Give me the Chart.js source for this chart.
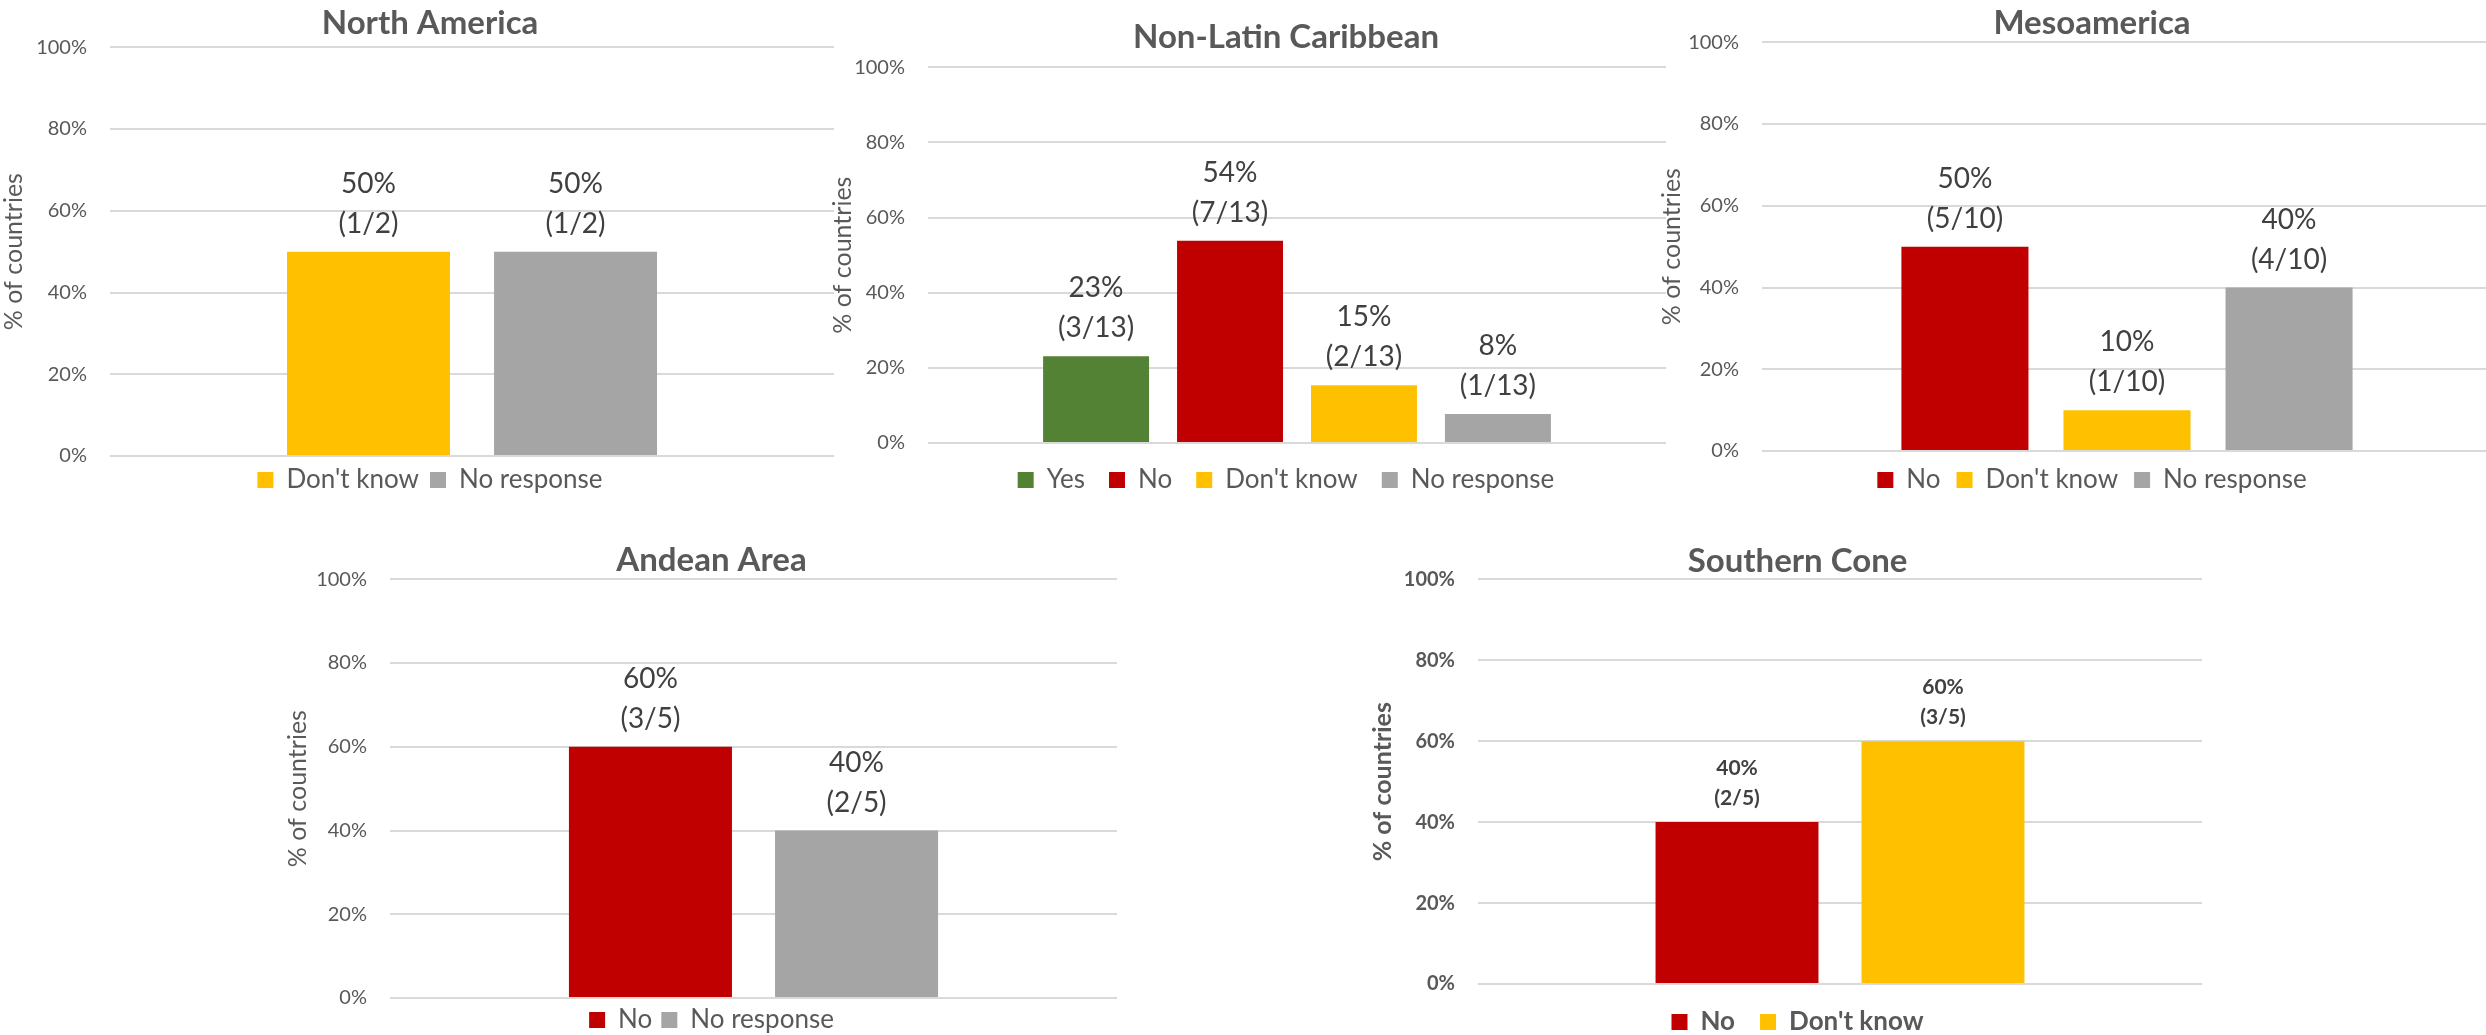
<!DOCTYPE html>
<html lang="en">
<head>
  <meta charset="UTF-8" />
  <title>Responses by subregion</title>
  <script src="https://cdn.jsdelivr.net/npm/chart.js"></script>
  <style>
    html, body {
      margin: 0;
      padding: 0;
      background: #fff;
      overflow: hidden;
    }
    body {
      width: 2486px;
      height: 1035px;
      position: relative;
      font-family: Lato, sans-serif;
    }
    .panel {
      position: absolute;
    }
  </style>
</head>
<body>

<div class="panel" style="left:0px; top:5px; width:860px; height:498px;"><canvas id="naChart"></canvas></div>
<div class="panel" style="left:829px; top:19px; width:914px; height:484px;"><canvas id="nlcChart"></canvas></div>
<div class="panel" style="left:1658px; top:5px; width:868px; height:498px;"><canvas id="mesoChart"></canvas></div>
<div class="panel" style="left:284px; top:542px; width:855px; height:501px;"><canvas id="andeanChart"></canvas></div>
<div class="panel" style="left:1369px; top:543px; width:857px; height:502px;"><canvas id="southChart"></canvas></div>

<script>
  // values are % of countries in each subregion, counts are the raw answers
  const naSeries = ["Don't know", "No response"];
  const naValues = [50, 50];
  const naCounts = ["(1/2)", "(1/2)"];

  const nlcSeries = ["Yes", "No", "Don't know", "No response"];
  const nlcValues = [23.1, 53.8, 15.4, 7.7];
  const nlcCounts = ["(3/13)", "(7/13)", "(2/13)", "(1/13)"];

  const mesoSeries = ["No", "Don't know", "No response"];
  const mesoValues = [50, 10, 40];
  const mesoCounts = ["(5/10)", "(1/10)", "(4/10)"];

  const andeanSeries = ["No", "No response"];
  const andeanValues = [60, 40];
  const andeanCounts = ["(3/5)", "(2/5)"];

  const southSeries = ["No", "Don't know"];
  const southValues = [40, 60];
  const southCounts = ["(2/5)", "(3/5)"];

  const yTickStep = 20;
  const yMax = 100;

  const colors = {
    "Yes": "#548235",
    "No": "#C00000",
    "Don't know": "#FFC000",
    "No response": "#A5A5A5"
  };

  const textGray = '#595959';

  // draws "54%" and "(7/13)" above each bar
  const valueLabels = {
    id: 'valueLabels',
    afterDatasetsDraw(chart, args, opts) {
      const ctx = chart.ctx;
      ctx.save();
      ctx.font = opts.font;
      ctx.fillStyle = opts.color;
      ctx.textAlign = 'center';
      ctx.textBaseline = 'middle';
      chart.data.datasets.forEach((ds, i) => {
        const bar = chart.getDatasetMeta(i).data[0];
        ctx.fillText(Math.round(ds.data[0]) + '%', bar.x, bar.y - opts.topGap);
        ctx.fillText(ds.count, bar.x, bar.y - opts.bottomGap);
      });
      ctx.restore();
    }
  };

  function makeChart(canvasId, title, series, values, counts, o) {
    const weight = o.bold ? 'bold' : 'normal';
    return new Chart(document.getElementById(canvasId), {
      type: 'bar',
      data: {
        labels: [''],
        datasets: series.map((name, i) => ({
          label: name,
          data: [values[i]],
          count: counts[i],
          backgroundColor: colors[name],
          borderWidth: 0,
          categoryPercentage: o.catPct,
          barPercentage: o.barPct
        }))
      },
      options: {
        responsive: true,
        maintainAspectRatio: false,
        animation: false,
        events: [],
        layout: { padding: 0 },
        scales: {
          x: { display: false },
          y: {
            min: 0,
            max: yMax,
            afterFit: s => { s.width = o.axisWidth; },
            grid: { color: '#d9d9d9', lineWidth: 2, drawTicks: false },
            border: { display: false },
            ticks: {
              stepSize: yTickStep,
              padding: 23,
              color: textGray,
              font: { family: 'Lato', size: 20, weight: weight },
              callback: v => v + '%'
            },
            title: {
              display: true,
              text: '% of countries',
              color: textGray,
              padding: 0,
              font: { family: 'Lato', size: 25, weight: weight, lineHeight: 1.1 }
            }
          },
          // empty axis on the right, only keeps the plot off the panel edge
          gap: {
            type: 'linear',
            position: 'right',
            afterFit: s => { s.width = o.rightGap; },
            grid: { display: false, drawTicks: false },
            border: { display: false },
            ticks: { display: false }
          }
        },
        plugins: {
          title: {
            display: true,
            text: title,
            color: textGray,
            font: { family: 'Lato', size: 33, weight: 'bold', lineHeight: 1.1 },
            padding: { top: 0, bottom: o.titleGap }
          },
          legend: {
            position: 'bottom',
            labels: {
              boxWidth: 16,
              boxHeight: 16,
              padding: o.legendPad,
              color: textGray,
              font: { family: 'Lato', size: 26, weight: weight }
            }
          },
          tooltip: { enabled: false },
          valueLabels: o.labels
        }
      },
      plugins: [valueLabels]
    });
  }

  const plainLabels = { font: 'normal 28px Lato', color: '#404040', topGap: 68, bottomGap: 28 };
  const boldLabels = { font: 'bold 21px Lato', color: '#404040', topGap: 54, bottomGap: 24 };

  makeChart('naChart', 'North America', naSeries, naValues, naCounts,
    { axisWidth: 110, rightGap: 26, titleGap: 6, legendPad: 11, catPct: 0.572, barPct: 0.787, labels: plainLabels });

  makeChart('nlcChart', 'Non-Latin Caribbean', nlcSeries, nlcValues, nlcCounts,
    { axisWidth: 99, rightGap: 77, titleGap: 12, legendPad: 24, catPct: 0.726, barPct: 0.791, labels: plainLabels });

  makeChart('mesoChart', 'Mesoamerica', mesoSeries, mesoValues, mesoCounts,
    { axisWidth: 104, rightGap: 34, titleGap: 1, legendPad: 16, catPct: 0.666, barPct: 0.784, labels: plainLabels });

  makeChart('andeanChart', 'Andean Area', andeanSeries, andeanValues, andeanCounts,
    { axisWidth: 106, rightGap: 22, titleGap: 1, legendPad: 9, catPct: 0.567, barPct: 0.791, labels: plainLabels });

  makeChart('southChart', 'Southern Cone', southSeries, southValues, southCounts,
    { axisWidth: 109, rightGap: 24, titleGap: 0, legendPad: 25, catPct: 0.569, barPct: 0.791, labels: boldLabels, bold: true });
</script>
</body>
</html>
